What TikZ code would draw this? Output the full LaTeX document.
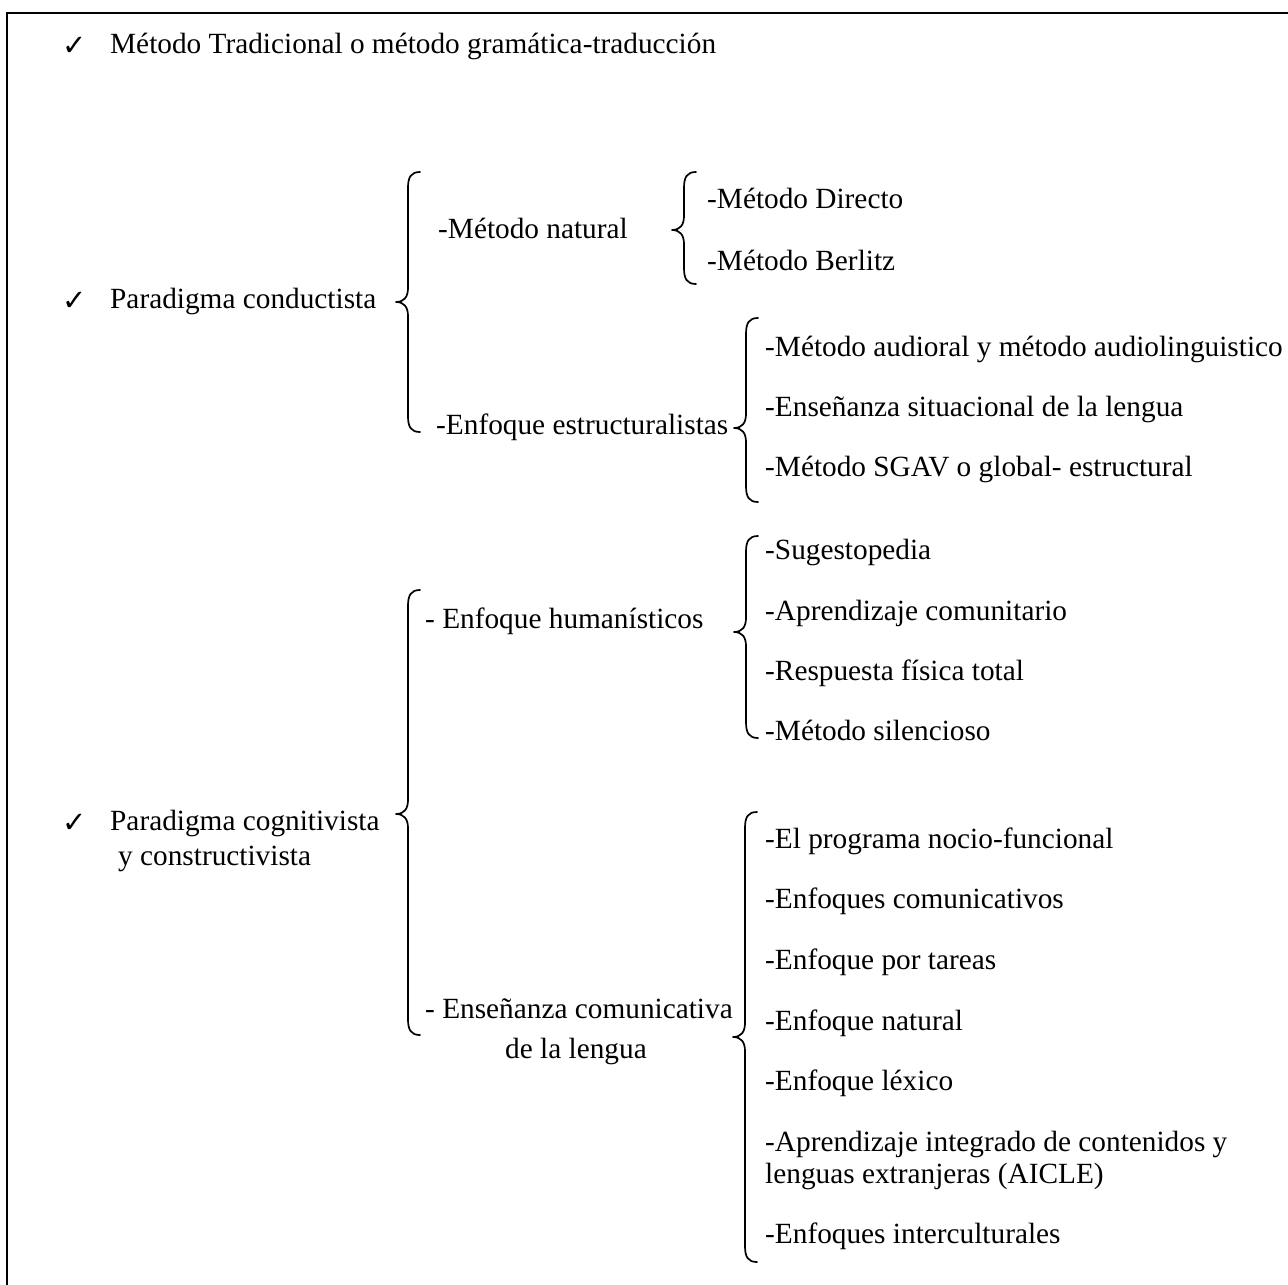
\documentclass[tikz,border=0pt]{standalone}
\usepackage{fontspec}
\setmainfont{Liberation Serif}
\newfontfamily\symfont{DejaVu Sans}
\tikzset{
  txt/.style={anchor=base west, inner sep=0pt, font=\fontsize{29.3}{34}\selectfont},
  ctxt/.style={anchor=base, inner sep=0pt, font=\fontsize{29.3}{34}\selectfont},
  chk/.style={anchor=base west, inner sep=0pt, font=\symfont\fontsize{29}{32}\selectfont},
  bracestroke/.style={line width=1.7pt, line cap=round, line join=round},
  framestroke/.style={line width=2.2pt}
}
% #1 x of vertical, #2 top y, #3 tip y, #4 bottom y
\newcommand\cbrace[4]{%
  \draw[bracestroke] (#1+12,#2) .. controls (#1+3,#2) and (#1,#2+5) .. (#1,#2+16)
    -- (#1,#3-14) .. controls (#1,#3-5) and (#1-4,#3) .. (#1-12,#3)
    .. controls (#1-4,#3) and (#1,#3+5) .. (#1,#3+14)
    -- (#1,#4-16) .. controls (#1,#4-5) and (#1+3,#4) .. (#1+12,#4);}
\begin{document}
\begin{tikzpicture}[x=1pt,y=-1pt]
\useasboundingbox (0,0) rectangle (1288,1285);
\fill[white] (0,0) rectangle (1288,1285);
\draw[framestroke] (7,13) rectangle (1300,1300);

% level 0
\node[chk] (c1) at (62,55) {✓};
\node[txt] (trad) at (110,53) {Método Tradicional o método gramática-traducción};
\node[chk] (c2) at (62,310) {✓};
\node[txt] (cond) at (110,308) {Paradigma conductista};
\node[chk] (c3) at (62,832) {✓};
\node[txt] (cogA) at (110,830) {Paradigma cognitivista};
\node[txt] (cogB) at (118,865) {y constructivista};

% conductista
\cbrace{408}{172}{302}{432}
\node[txt] (natural) at (438,238) {-Método natural};
\node[txt] (estruc) at (436,434) {-Enfoque estructuralistas};

\cbrace{684}{172}{230}{284}
\node[txt] (directo) at (707,208) {-Método Directo};
\node[txt] (berlitz) at (707,270) {-Método Berlitz};

\cbrace{746}{318}{428}{502}
\node[txt] (audio) at (765,356) {-Método audioral y método audiolinguistico};
\node[txt] (situ) at (765,416) {-Enseñanza situacional de la lengua};
\node[txt] (sgav) at (765,476) {-Método SGAV o global- estructural};

% cognitivista
\cbrace{408}{590}{814}{1035}
\node[txt] (human) at (425,628) {- Enfoque humanísticos};
\node[txt] (comA) at (425,1018) {- Enseñanza comunicativa};
\node[ctxt] (comB) at (576,1058) {de la lengua};

\cbrace{746}{536}{632}{738}
\node[txt] (suge) at (765,559) {-Sugestopedia};
\node[txt] (comun) at (765,620) {-Aprendizaje comunitario};
\node[txt] (resp) at (765,680) {-Respuesta física total};
\node[txt] (silen) at (765,740) {-Método silencioso};

\cbrace{745}{812}{1037}{1262}
\node[txt] (nocio) at (765,848) {-El programa nocio-funcional};
\node[txt] (ecom) at (765,908) {-Enfoques comunicativos};
\node[txt] (tareas) at (765,969) {-Enfoque por tareas};
\node[txt] (enat) at (765,1030) {-Enfoque natural};
\node[txt] (lexico) at (765,1090) {-Enfoque léxico};
\node[txt] (aicleA) at (765,1151) {-Aprendizaje integrado de contenidos y};
\node[txt] (aicleB) at (765,1183) {lenguas extranjeras (AICLE)};
\node[txt] (inter) at (765,1243) {-Enfoques interculturales};
\end{tikzpicture}
\end{document}
